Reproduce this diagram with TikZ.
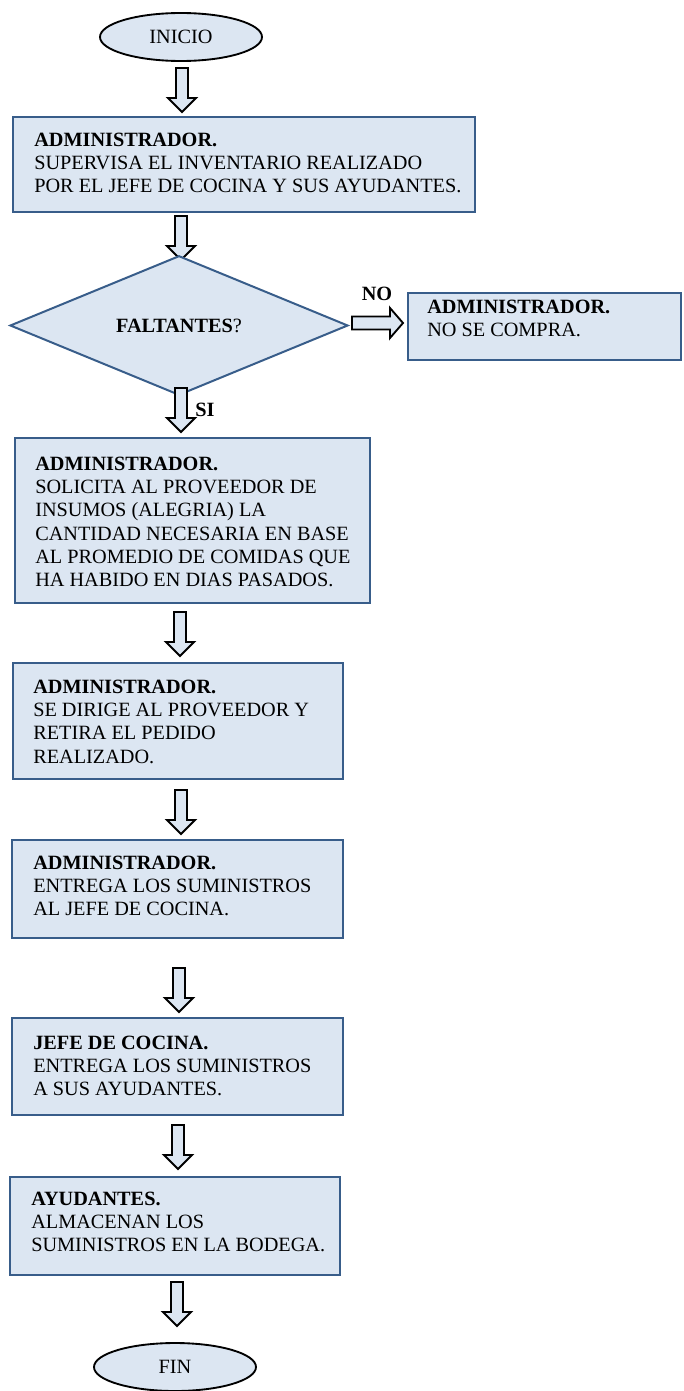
\documentclass[tikz,border=0pt]{standalone}
\usepackage{fontspec}
\setmainfont{Liberation Serif}
\usetikzlibrary{shapes.geometric,fit}
\definecolor{boxfill}{RGB}{220,230,242}
\definecolor{boxline}{RGB}{56,93,138}
\begin{document}
\begin{tikzpicture}[x=0.75pt,y=-0.75pt,
  box/.style={draw=boxline, line width=1.9pt, fill=boxfill, inner sep=0pt},
  txt/.style={font=\fontsize{15.2}{17.5}\selectfont, align=left, inner sep=0pt, anchor=north west},
  term/.style={ellipse, draw=black, line width=1.4pt, fill=boxfill, inner sep=0pt,
    minimum width=121.5pt, minimum height=36pt, font=\fontsize{15.2}{17.5}\selectfont},
  decision/.style={diamond, draw=boxline, line width=1.5pt, fill=boxfill, inner sep=0pt,
    minimum width=253.5pt, minimum height=86.25pt, font=\fontsize{15.2}{17.5}\selectfont},
  lbl/.style={font=\fontsize{15.2}{17.5}\selectfont\bfseries, inner sep=0pt},
  arr/.style={draw=black, line width=1.4pt, fill=boxfill, line join=miter},
  pics/downarr/.style={code={
    \draw[arr, pic actions] (-6,0) -- (6,0) -- (6,30) -- (14,30) -- (0,44)
      -- (-14,30) -- (-6,30) -- cycle;}},
  pics/rightarr/.style={code={
    \draw[arr, pic actions] (0,-6.5) -- (38,-6.5) -- (38,-15) -- (51,0)
      -- (38,15) -- (38,6.5) -- (0,6.5) -- cycle;}}
]
\useasboundingbox (0,0) rectangle (683,1391);

% start
\node[term] (inicio) at (181,37) {INICIO};
\pic[draw=boxline] at (182,68) {downarr};

% step 1
\node[box, fit={(13,117) (475,212)}] (b1) {};
\node[txt] (t1) at (34,132.5) {\textbf{ADMINISTRADOR.}\\SUPERVISA EL INVENTARIO REALIZADO\\POR EL JEFE DE COCINA Y SUS AYUDANTES.};
\pic at (181,216) {downarr};

% decision
\node[decision] (dec) at (179,325.5) {\textbf{FALTANTES}?};
\pic at (352,323) {rightarr};
\node[lbl] (no) at (377,294) {NO};
\node[box, fit={(408,293) (681,360)}] (bno) {};
\node[txt] (tno) at (427,299.5) {\textbf{ADMINISTRADOR.}\\NO SE COMPRA.};
\pic at (181,388) {downarr};
\node[lbl] (si) at (205,410) {SI};

% step 2
\node[box, fit={(15,438) (370,603)}] (b2) {};
\node[txt] (t2) at (35,456.5) {\textbf{ADMINISTRADOR.}\\SOLICITA AL PROVEEDOR DE\\INSUMOS (ALEGRIA) LA\\CANTIDAD NECESARIA EN BASE\\AL PROMEDIO DE COMIDAS QUE\\HA HABIDO EN DIAS PASADOS.};
\pic at (180,612) {downarr};

% step 3
\node[box, fit={(13,663) (343,779)}] (b3) {};
\node[txt] (t3) at (33,679.5) {\textbf{ADMINISTRADOR.}\\SE DIRIGE AL PROVEEDOR Y\\RETIRA EL PEDIDO\\REALIZADO.};
\pic at (181,790) {downarr};

% step 4
\node[box, fit={(12,840) (343,938)}] (b4) {};
\node[txt] (t4) at (33,855.5) {\textbf{ADMINISTRADOR.}\\ENTREGA LOS SUMINISTROS\\AL JEFE DE COCINA.};
\pic at (179,968) {downarr};

% step 5
\node[box, fit={(12,1018) (343,1115)}] (b5) {};
\node[txt] (t5) at (33,1035.5) {\textbf{JEFE DE COCINA.}\\ENTREGA LOS SUMINISTROS\\A SUS AYUDANTES.};
\pic at (178,1125) {downarr};

% step 6
\node[box, fit={(10,1177) (340,1275)}] (b6) {};
\node[txt] (t6) at (31,1191.5) {\textbf{AYUDANTES.}\\ALMACENAN LOS\\SUMINISTROS EN LA BODEGA.};
\pic at (177,1282) {downarr};

% end
\node[term] (fin) at (175,1367) {FIN};
\end{tikzpicture}
\end{document}
